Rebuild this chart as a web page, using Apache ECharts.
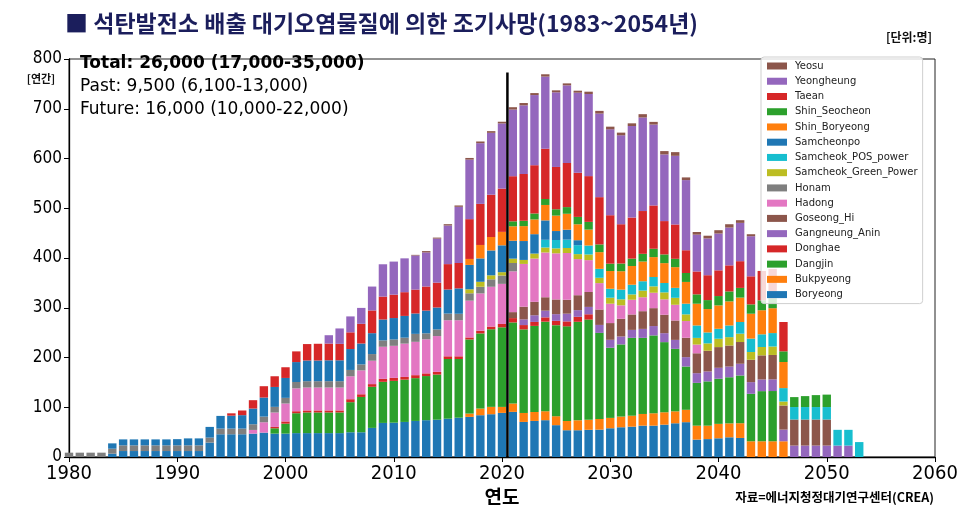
<!DOCTYPE html>
<html>
<head>
<meta charset="utf-8">
<script src="https://cdn.jsdelivr.net/npm/echarts@6/dist/echarts.min.js"></script>
<style>
html,body{margin:0;padding:0;background:#fff;}
#c{width:970px;height:515px;}
</style>
</head>
<body>
<div id="c"></div>
<script>
// Category slots 1980..2060 (bars exist for 1980..2053)
const years = [
1980,1981,1982,1983,1984,1985,1986,1987,1988,1989,
1990,1991,1992,1993,1994,1995,1996,1997,1998,1999,
2000,2001,2002,2003,2004,2005,2006,2007,2008,2009,
2010,2011,2012,2013,2014,2015,2016,2017,2018,2019,
2020,2021,2022,2023,2024,2025,2026,2027,2028,2029,
2030,2031,2032,2033,2034,2035,2036,2037,2038,2039,
2040,2041,2042,2043,2044,2045,2046,2047,2048,2049,
2050,2051,2052,2053,2054,2055,2056,2057,2058,2059,
2060];

const Boryeong = [
0,0,0,0,6.7,12,12,12,12,12,
12,12,12,29,45.7,45.7,45.7,47,49,47,
47,48,48,48,48,48,49.7,49.7,58.5,68.5,
69,70.5,72.5,74,75,77,79,80.6,84,86,
88.7,90.7,70.5,72.5,74,64,53.8,53.8,54.7,55,
57.8,59.8,61,63,63,65,67.8,70,35,36,
37.6,39.6,38.3,0,0,0,0,0,0,0,
0,0,0,0];
const Bukpyeong = [
0,0,0,0,0,0,0,0,0,0,
0,0,0,0,0,0,0,0,0,0,
0,0,0,0,0,0,0,0,0,0,
0,0,0,0,0,0,0,6.7,13.4,14.8,
12,16.8,18,18,18,18,18.8,20,20,21.5,
20.8,21.5,22,23.5,24.9,24.9,24,24.9,28,27,
29,28,29.6,31.6,31.6,31.6,31.6,0,0,0,
0,0,0,0];
const Dangjin = [
0,0,0,0,0,0,0,0,0,0,
0,0,0,0,0,0,0,0,0,10.7,
20,40,41.6,41.6,41.6,41.6,60.5,71,82.6,82.6,
84,85,86,88.7,90.7,120,118,149,151,156,
160,163,168,173,180,183,190,198,201.5,173,
141,145,156.5,153,156.5,141,125.6,87,86,89,
90.7,92.7,96,95.4,100.8,101,0,0,0,0,
0,0,0,0];
const Donghae = [
0,0,0,0,0,0,0,0,0,0,
0,0,0,0,0,0,0,0,0,2.7,
4.5,4,4,4,4,4,6,5.4,5.4,6,
6,5.4,6,5.4,5.4,5.4,5.4,4,5.4,5.4,
6.7,8.7,8.7,8,8.7,8.7,10,10,10.7,0,
0,0,0,0,0,0,0,0,0,0,
0,0,0,0,0,0,0,0,0,0,
0,0,0,0];
const Gangneung_Anin = [
0,0,0,0,0,0,0,0,0,0,
0,0,0,0,0,0,0,0,0,0,
0,0,0,0,0,0,0,0,0,0,
0,0,0,0,0,0,0,0,0,0,
0,0,11.4,13.4,13.4,13.4,15.5,13.4,14.8,16,
16,16,16,18,18.8,18,18,18.8,19.5,20,
22,21.5,23.5,23.5,23.5,23.5,23.5,23,23,23,
23,23,23,0];
const Goseong_Hi = [
0,0,0,0,0,0,0,0,0,0,
0,0,0,0,0,0,0,0,0,0,
0,0,0,0,0,0,0,0,0,0,
0,0,0,0,0,0,0,0,0,0,
0,12,25.5,27,27,29.6,28,30,30,31,
33.6,35.6,31,35.6,36,37,39,39,40,41.6,
41.6,42.3,43.7,45,48.4,49,48.4,52.4,52.4,52.4,
52.4,0,0,0];
const Hadong = [
0,0,0,0,0,0,0,0,0,0,
0,0,0,0,0,0,0,7.4,20.8,29,
36,46,46,46,46,46,46,48,47,64.5,
64.5,67,67,68.5,72,72.5,72.5,74,75,80,
80.6,82,86,87,90,92.7,94,72.6,64,53,
39,27,29.6,28,31,31,31.6,33.6,17.5,0,
0,0,0,0,0,0,0,0,0,0,
0,0,0,0];
const Honam = [
8.7,8.7,8.7,8.7,10,11.4,11.4,11.4,11.4,11.4,
11.4,11.4,11.4,10,11.4,11.4,11.4,11.4,11.4,11.4,
11.4,12.8,12.8,12.8,12.8,12.8,12.8,12,13.4,12.8,
12.8,12,16,12,13.4,13.4,13,14.8,13.4,15,
16.8,16.8,0,0,0,0,0,0,0,0,
0,0,0,0,0,0,0,0,0,0,
0,0,0,0,0,0,0,0,0,0,
0,0,0,0];
const Samcheok_Green_Power = [
0,0,0,0,0,0,0,0,0,0,
0,0,0,0,0,0,0,0,0,0,
0,0,0,0,0,0,0,0,0,0,
0,0,0,0,0,0,0,8,10,8,
6.7,8.7,8,10,10,10,10,10,11.4,10.7,
12,12,10.7,13.4,12.8,14,14,13.4,13.4,14.8,
16.8,16.8,16.8,15.5,16.8,17,8,0,0,0,
0,0,0,0];
const Samcheok_POS_power = [
0,0,0,0,0,0,0,0,0,0,
0,0,0,0,0,0,0,0,0,0,
0,0,0,0,0,0,0,0,0,0,
0,0,0,0,0,0,0,0,0,0,
0,0,0,0,15.5,16.8,16.8,18,18,18,
18,19.5,19.5,18.8,18.8,18.8,20,21.5,25,22,
20,23.5,23.5,27,25.5,27,27,25,25,25,
25,31.6,31.6,30];
const Samcheonpo = [
0,0,0,0,10.7,12,12,12,12,12,
12.5,14,14,21.5,25.5,26,27,31.6,38.3,40,
40,40,41.6,41.6,42,42,42,42,42,42,
43,43.7,41,45.7,44,48.4,51,49,47,50,
54,36,38,39,39,18,20,10,0,0,
0,0,0,0,0,0,0,0,0,0,
0,0,0,0,0,0,0,0,0,0,
0,0,0,0];
const Shin_Boryeong = [
0,0,0,0,0,0,0,0,0,0,
0,0,0,0,0,0,0,0,0,0,
0,0,0,0,0,0,0,0,0,0,
0,0,0,0,0,0,0,12,27,27,
27,29,30,29.6,31,31,32,32,32,33.6,
35.6,37,37.6,39.6,40,40,41.6,43.7,43.7,47,
47,48.4,49,50,48.4,50,52.4,0,0,0,
0,0,0,0];
const Shin_Seocheon = [
0,0,0,0,0,0,0,0,0,0,
0,0,0,0,0,0,0,0,0,0,
0,0,0,0,0,0,0,0,0,0,
0,0,0,0,0,0,0,0,0,0,
0,10,10.7,12,12,12.8,13.4,14.8,15.5,15.5,
14.8,15.5,14.8,15.5,16.8,17.5,16.8,18,18.8,18,
18.8,20,19.5,18.8,20,20,21.5,20,22,24,
25,0,0,0];
const Taean = [
0,0,0,0,0,0,0,0,0,0,
0,0,0,0,0,4.7,9.4,16.8,22.8,21.5,
21.5,21.5,33,33.6,33.6,33,33.6,39.6,45.7,46,
47,47.7,48,48.4,50,51,51,80,82.6,85,
87,90.7,94,97,101,85,88.7,88.7,92,95,
97.4,79,82.6,86,87,67,69,45.7,46,50,
51.7,52.4,53.7,56.4,59,59,59,0,0,0,
0,0,0,0];
const Yeongheung = [
0,0,0,0,0,0,0,0,0,0,
0,0,0,0,0,0,0,0,0,0,
0,0,0,0,16.8,31,32,32,48,65,
66.5,68,68.5,68.5,88.5,77.6,113,119.6,122,124.4,
131,134,138,141,145,150,156,161,165,168,
172.6,178.7,184,188,162.6,134,138,141,74,74,
74,76,77,80.6,0,0,0,0,0,0,
0,0,0,0];
const Yeosu = [
0,0,0,0,0,0,0,0,0,0,
0,0,0,0,0,0,0,0,0,0,
0,0,0,0,0,0,0,0,0,0,
0,0,1.3,2.7,2,2.7,2.7,3.4,3.4,3.4,
3.4,4.7,4.7,4,4.7,4,4,4,4.7,5.4,
5.4,5.4,5.4,6.7,5.4,6.7,7.4,5.4,5.4,5.4,
6.7,6.7,5.4,4,0,0,0,0,0,0,
0,0,0,0];

// stacking order bottom -> top
const seriesNames = ['Boryeong','Bukpyeong','Dangjin','Donghae','Gangneung_Anin','Goseong_Hi','Hadong','Honam',
  'Samcheok_Green_Power','Samcheok_POS_power','Samcheonpo','Shin_Boryeong','Shin_Seocheon','Taean','Yeongheung','Yeosu'];
const seriesValues = [Boryeong,Bukpyeong,Dangjin,Donghae,Gangneung_Anin,Goseong_Hi,Hadong,Honam,
  Samcheok_Green_Power,Samcheok_POS_power,Samcheonpo,Shin_Boryeong,Shin_Seocheon,Taean,Yeongheung,Yeosu];
const seriesColors = ['#1f77b4','#ff7f0e','#2ca02c','#d62728','#9467bd','#8c564b','#e377c2','#7f7f7f',
  '#bcbd22','#17becf','#1f77b4','#ff7f0e','#2ca02c','#d62728','#9467bd','#8c564b'];

const xTicks = {min:1980, max:2060, interval:10};
const yTicks = {min:0, max:800, interval:100};
const dividerYear = 2020.5;
const dividerTop = 773;

const condensed = "'DejaVu Sans Condensed','Liberation Sans Narrow','DejaVu Sans',sans-serif";
const dv = "'DejaVu Sans',sans-serif";
const kr = "'Noto Sans CJK KR','Noto Sans CJK SC',sans-serif";

const series = seriesNames.map((n,i)=>({
  name:n, type:'bar', stack:'total', barWidth:8.4, clip:true, xAxisIndex:0,
  itemStyle:{color:seriesColors[i]},
  data: seriesValues[i]
}));
series.push({
  name:'divider', type:'line', symbol:'none', silent:true, z:5, xAxisIndex:1,
  lineStyle:{color:'#000', width:2.5},
  data:[[dividerYear,0],[dividerYear,dividerTop]]
});

const chart = echarts.init(document.getElementById('c'), null, {renderer:'canvas'});
chart.setOption({
  animation:false,
  backgroundColor:'#fff',
  grid:{left:69, right:35, top:59, bottom:58, show:true, borderColor:'#222', borderWidth:1, backgroundColor:'transparent'},
  xAxis:[
    {type:'category', data:years.map(String), boundaryGap:false, position:'bottom',
      axisLine:{show:false}, axisTick:{show:false}, axisLabel:{show:false}, splitLine:{show:false}},
    {type:'value', min:xTicks.min, max:xTicks.max, interval:xTicks.interval, position:'bottom',
      splitLine:{show:false},
      axisLine:{show:true, onZero:false, lineStyle:{color:'#000', width:1.3}},
      axisTick:{show:true, inside:false, length:5, lineStyle:{color:'#000', width:1}},
      axisLabel:{color:'#000', fontSize:20, fontFamily:condensed, margin:7, formatter:v=>String(v)}
    }
  ],
  yAxis:{type:'value', min:yTicks.min, max:yTicks.max, interval:yTicks.interval,
    splitLine:{show:false},
    axisLine:{show:true, lineStyle:{color:'#000', width:1.3}},
    axisTick:{show:true, inside:false, length:5, lineStyle:{color:'#000', width:1}},
    axisLabel:{color:'#000', fontSize:17, fontFamily:condensed, margin:7}
  },
  legend:{
    orient:'vertical', left:761, top:57,
    data:['Yeosu','Yeongheung','Taean','Shin_Seocheon','Shin_Boryeong','Samcheonpo','Samcheok_POS_power',
      'Samcheok_Green_Power','Honam','Hadong','Goseong_Hi','Gangneung_Anin','Donghae','Dangjin','Bukpyeong','Boryeong'],
    icon:'rect', itemWidth:20, itemHeight:7, itemGap:3.24,
    padding:[3,5,3,6],
    backgroundColor:'rgba(255,255,255,0.82)', borderColor:'#cfcfcf', borderWidth:1, borderRadius:3,
    selectedMode:false,
    textStyle:{fontSize:10, lineHeight:12, color:'#222', fontFamily:dv, padding:[0,0,0,3]}
  },
  graphic:[
    {type:'text', x:65, y:23, style:{text:'■ 석탄발전소 배출 대기오염물질에 의한 조기사망(1983~2054년)',
      font:'bold 23px '+kr, fill:'#1b1e5c', textAlign:'left', textVerticalAlign:'middle', align:'left', verticalAlign:'middle'}},
    {type:'text', x:932, y:37, style:{text:'[단위:명]', font:'bold 12px '+kr, fill:'#111',
      textAlign:'right', textVerticalAlign:'middle', align:'right', verticalAlign:'middle'}},
    {type:'text', x:41, y:79, style:{text:'[연간]', font:'bold 11px '+kr, fill:'#111',
      textAlign:'center', textVerticalAlign:'middle', align:'center', verticalAlign:'middle'}},
    {type:'text', x:80, y:64, z:10, style:{text:'Total: 26,000 (17,000-35,000)', font:'bold 17px '+dv, fill:'#000',
      textAlign:'left', textVerticalAlign:'middle', align:'left', verticalAlign:'middle'}},
    {type:'text', x:80, y:87, z:10, style:{text:'Past: 9,500 (6,100-13,000)', font:'17px '+dv, fill:'#000',
      textAlign:'left', textVerticalAlign:'middle', align:'left', verticalAlign:'middle'}},
    {type:'text', x:80, y:110, z:10, style:{text:'Future: 16,000 (10,000-22,000)', font:'17px '+dv, fill:'#000',
      textAlign:'left', textVerticalAlign:'middle', align:'left', verticalAlign:'middle'}},
    {type:'text', x:502, y:497, style:{text:'연도', font:'bold 19px '+kr, fill:'#000',
      textAlign:'center', textVerticalAlign:'middle', align:'center', verticalAlign:'middle'}},
    {type:'text', x:934, y:497, style:{text:'자료=에너지청정대기연구센터(CREA)', font:'bold 12.5px '+kr, fill:'#000',
      textAlign:'right', textVerticalAlign:'middle', align:'right', verticalAlign:'middle'}}
  ],
  series: series
});
</script>
</body>
</html>
